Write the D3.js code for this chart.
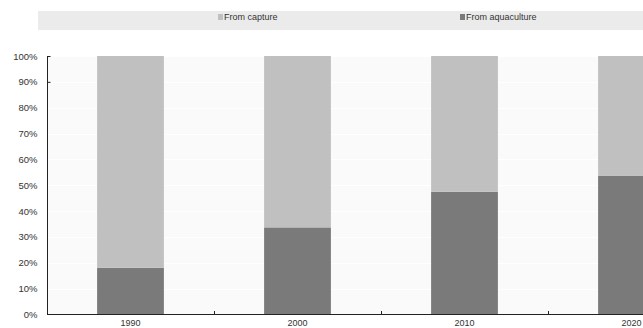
<!DOCTYPE html>
<html>
<head>
<meta charset="utf-8">
<script src="https://cdn.jsdelivr.net/npm/d3@7"></script>
<style>
  html, body { margin: 0; padding: 0; background: #ffffff; overflow: hidden; }
  svg { display: block; font-family: "Liberation Sans", Arial, sans-serif; }
</style>
</head>
<body>
<svg id="chart" width="643" height="328"></svg>
<script>
const years = ["1990", "2000", "2010", "2020"];
const seriesNames = ["From capture", "From aquaculture"];
const aquaculture = [0.181, 0.337, 0.475, 0.536];
const capture = [0.819, 0.663, 0.525, 0.464];
const yTicks = [0, 0.1, 0.2, 0.3, 0.4, 0.5, 0.6, 0.7, 0.8, 0.9, 1.0];
const colors = ["#c0c0c0", "#7a7a7a"];

const svg = d3.select("#chart");
const W = 643, H = 328;

const x = d3.scaleBand().domain(years).range([47, 715]).paddingInner(0.6).paddingOuter(0.3);
const y = d3.scaleLinear().domain([0, 1]).range([314.5, 56]);

// plot background
svg.append("rect").attr("x", 47).attr("y", 56).attr("width", W - 47).attr("height", 314.5 - 56)
  .attr("fill", "#fafafa");

// gridlines
svg.append("g").selectAll("line").data(yTicks.slice(1)).join("line")
  .attr("x1", 48).attr("x2", W).attr("y1", d => Math.round(y(d)) + 0.5).attr("y2", d => Math.round(y(d)) + 0.5)
  .attr("stroke", "#ffffff").attr("stroke-width", 1);

// stacked data
const rows = years.map((yr, i) => ({ year: yr, "From aquaculture": aquaculture[i], "From capture": capture[i] }));
const stack = d3.stack().keys(["From aquaculture", "From capture"]);
const stacked = stack(rows);
const colorOf = { "From capture": colors[0], "From aquaculture": colors[1] };

svg.append("g").selectAll("g").data(stacked).join("g")
  .attr("fill", d => colorOf[d.key])
  .selectAll("rect").data(d => d).join("rect")
  .attr("x", d => x(d.data.year))
  .attr("width", x.bandwidth())
  .attr("y", d => y(d[1]))
  .attr("height", d => y(d[0]) - y(d[1]));

// y axis
const yAxis = d3.axisLeft(y).tickValues(yTicks).tickFormat(d3.format(".0%")).tickSize(-3).tickPadding(10);
const gy = svg.append("g").attr("transform", "translate(47.5,0)").call(yAxis);
gy.select(".domain").attr("stroke", "#222").attr("d", `M0,${y(1)}V${y(0)}`);
gy.selectAll(".tick line").attr("stroke", "#222").attr("opacity", d => d >= 0.9 ? 1 : 0);
gy.selectAll(".tick text").attr("fill", "#333").attr("font-size", "9.5px")
  .attr("font-family", "'Liberation Sans', Arial, sans-serif");

// x axis
const xAxis = d3.axisBottom(x).tickSize(0).tickPadding(5);
const gx = svg.append("g").attr("transform", "translate(0,314.5)").call(xAxis);
gx.select(".domain").attr("stroke", "#222").attr("d", `M47,0H${W}`);
gx.selectAll(".tick text").attr("fill", "#333").attr("font-size", "9px")
  .attr("font-family", "'Liberation Sans', Arial, sans-serif");
// category boundary ticks
const boundaryX = years.slice(1).map(yr => x(yr) - (x.step() - x.bandwidth()) / 2);
svg.append("g").selectAll("line").data(boundaryX).join("line")
  .attr("x1", d => Math.round(d) + 0.5).attr("x2", d => Math.round(d) + 0.5)
  .attr("y1", 314.5).attr("y2", 311)
  .attr("stroke", "#222");

// legend
const lg = svg.append("g");
lg.append("rect").attr("x", 38).attr("y", 11).attr("width", W - 38).attr("height", 19).attr("fill", "#ebebeb");
const legendX = [218, 460];
const items = lg.selectAll("g.item").data(seriesNames).join("g").attr("class", "item")
  .attr("transform", (d, i) => `translate(${legendX[i]},17)`);
items.append("rect").attr("x", 0).attr("y", -3).attr("width", 5).attr("height", 6)
  .attr("fill", d => colorOf[d]);
items.append("text").attr("x", 6).attr("y", 0).attr("dy", "0.35em")
  .attr("font-size", "9px").attr("fill", "#333").text(d => d);
</script>
</body>
</html>
